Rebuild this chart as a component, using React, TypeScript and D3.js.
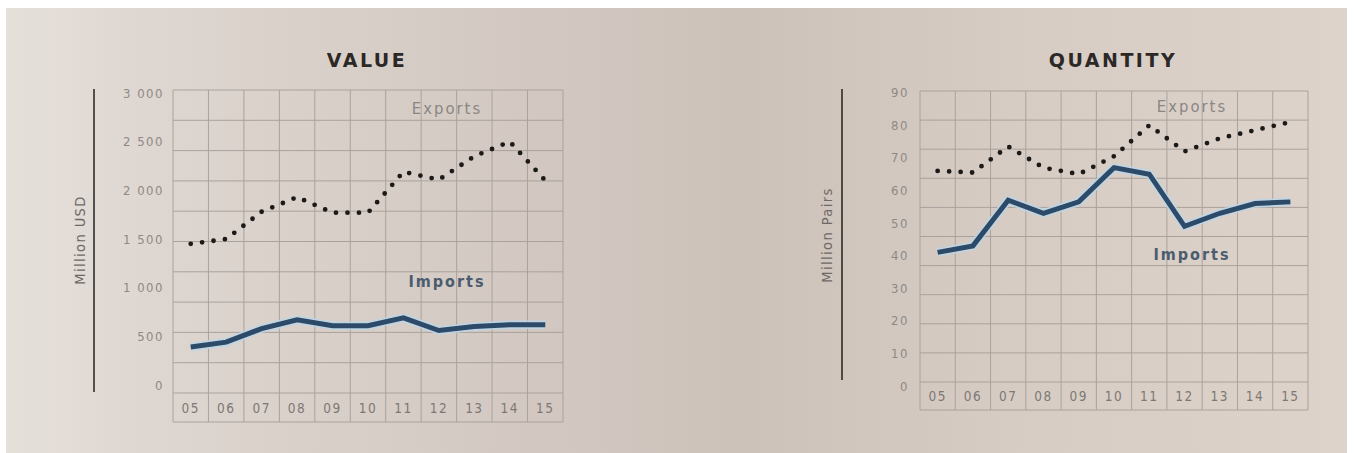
import React from "react";
import * as d3 from "d3";

const years = ["05", "06", "07", "08", "09", "10", "11", "12", "13", "14", "15"];

const valueExports = [1450, 1500, 1780, 1930, 1770, 1770, 2190, 2110, 2350, 2500, 2100];
const valueImports = [390, 440, 580, 670, 610, 610, 690, 560, 600, 620, 620];
const valueTicks = [0, 500, 1000, 1500, 2000, 2500, 3000];

const qtyExports = [66, 65.5, 73.5, 67, 65, 70.5, 80, 72, 76, 78.5, 81];
const qtyImports = [41, 43, 57, 53, 56.5, 67, 65, 49, 53, 56, 56.5];
const qtyTicks = [0, 10, 20, 30, 40, 50, 60, 70, 80, 90];

const locale = d3.formatLocale({ decimal: ".", thousands: " ", grouping: [3], currency: ["", ""] });
const fmt = locale.format(",");

const FONT = "'DejaVu Sans Condensed', 'DejaVu Sans', sans-serif";

type PanelProps = {
  title: string;
  titleX: number;
  axisLabel: string;
  exportsData: number[];
  importsData: number[];
  ticks: number[];
  yMax: number;
  gridLeft: number;
  gridRight: number;
  gridTop: number;
  dataBottom: number;
  labelBottom: number;
  yZero: number;
  yTop: number;
  tickRight: number;
  axisLineX: number;
  axisLineBottom: number;
  axisLabelX: number;
  axisLabelY: number;
  exportsLabelY: number;
  importsLabelY: number;
  labelsX: number;
};

function Panel(p: PanelProps) {
  const x = d3.scaleBand<string>().domain(years).range([p.gridLeft, p.gridRight]).padding(0);
  const y = d3.scaleLinear().domain([0, p.yMax]).range([p.yZero, p.yTop]);
  const rows = d3.range(11).map((i) => p.gridTop + (i * (p.dataBottom - p.gridTop)) / 10);
  const cx = (i: number) => (x(years[i]) as number) + x.bandwidth() / 2;
  const line = d3
    .line<number>()
    .x((_, i) => cx(i))
    .y((d) => y(d));
  const gridColor = "#aaa29c";
  return (
    <g>
      <text
        x={p.titleX}
        y={67}
        textAnchor="middle"
        fontFamily="'DejaVu Sans', sans-serif"
        fontWeight="bold"
        fontSize={19}
        letterSpacing={2.5}
        fill="#2b2826"
      >
        {p.title}
      </text>
      {rows.map((r, i) => (
        <line key={"h" + i} x1={p.gridLeft} x2={p.gridRight} y1={r} y2={r} stroke={gridColor} strokeWidth={1} />
      ))}
      <line x1={p.gridLeft} x2={p.gridRight} y1={p.labelBottom} y2={p.labelBottom} stroke={gridColor} strokeWidth={1} />
      {years.map((yr) => (
        <line
          key={"v" + yr}
          x1={x(yr)}
          x2={x(yr)}
          y1={p.gridTop}
          y2={p.labelBottom}
          stroke={gridColor}
          strokeWidth={1}
        />
      ))}
      <line x1={p.gridRight} x2={p.gridRight} y1={p.gridTop} y2={p.labelBottom} stroke={gridColor} strokeWidth={1} />
      {years.map((yr) => (
        <text
          key={"xl" + yr}
          x={(x(yr) as number) + x.bandwidth() / 2}
          y={(p.dataBottom + p.labelBottom) / 2 + 5}
          textAnchor="middle"
          fontFamily={FONT}
          fontSize={13.5}
          letterSpacing={1.5}
          fill="#7d7874"
        >
          {yr}
        </text>
      ))}
      {p.ticks.map((t) => (
        <text
          key={"yt" + t}
          x={p.tickRight}
          y={y(t) + 4.5}
          textAnchor="end"
          fontFamily={FONT}
          fontSize={13}
          letterSpacing={1.5}
          fill="#8e8985"
        >
          {fmt(t)}
        </text>
      ))}
      <line x1={p.axisLineX} x2={p.axisLineX} y1={89} y2={p.axisLineBottom} stroke="#2e2b29" strokeWidth={1.6} />
      <text
        transform={`translate(${p.axisLabelX},${p.axisLabelY}) rotate(-90)`}
        textAnchor="middle"
        fontFamily={FONT}
        fontSize={14.5}
        letterSpacing={1.4}
        fill="#6e6966"
      >
        {p.axisLabel}
      </text>
      <text
        x={p.labelsX}
        y={p.exportsLabelY}
        textAnchor="middle"
        fontFamily={FONT}
        fontSize={16.5}
        letterSpacing={2}
        fill="#8a8684"
      >
        Exports
      </text>
      <text
        x={p.labelsX}
        y={p.importsLabelY}
        textAnchor="middle"
        fontFamily={FONT}
        fontWeight="bold"
        fontSize={16}
        letterSpacing={2}
        fill="#4b5c6f"
      >
        Imports
      </text>
      <path d={line(p.importsData) || ""} fill="none" stroke="#bcd6e8" strokeWidth={8.5} strokeLinejoin="round" opacity={0.85} />
      <path d={line(p.importsData) || ""} fill="none" stroke="#2d4a69" strokeWidth={5} strokeLinejoin="miter" />
      <path
        d={line(p.exportsData) || ""}
        fill="none"
        stroke="#1c1a19"
        strokeWidth={4.8}
        strokeLinecap="round"
        strokeDasharray="0 11.5"
      />
    </g>
  );
}

export default function App() {
  return (
    <svg
      width={1354}
      height={453}
      style={{ position: "absolute", left: 0, top: 0 }}
      xmlns="http://www.w3.org/2000/svg"
    >
      <defs>
        <linearGradient id="bg" x1="0" x2="1" y1="0" y2="0">
          <stop offset="0" stopColor="#e6e0db" />
          <stop offset="0.12" stopColor="#ddd5cf" />
          <stop offset="0.4" stopColor="#d2c8c1" />
          <stop offset="0.55" stopColor="#cdc2ba" />
          <stop offset="0.75" stopColor="#d6ccc4" />
          <stop offset="1" stopColor="#ddd3cb" />
        </linearGradient>
      </defs>
      <rect x={0} y={0} width={1354} height={453} fill="#ffffff" />
      <rect x={6} y={8} width={1341} height={445} fill="url(#bg)" />
      <Panel
        title="VALUE"
        titleX={367}
        axisLabel="Million USD"
        exportsData={valueExports}
        importsData={valueImports}
        ticks={valueTicks}
        yMax={3000}
        gridLeft={173}
        gridRight={563}
        gridTop={90}
        dataBottom={393}
        labelBottom={422}
        yZero={385}
        yTop={93}
        tickRight={164}
        axisLineX={94}
        axisLineBottom={392}
        axisLabelX={85}
        axisLabelY={240}
        exportsLabelY={114}
        importsLabelY={287}
        labelsX={447}
      />
      <Panel
        title="QUANTITY"
        titleX={1113}
        axisLabel="Million Pairs"
        exportsData={qtyExports}
        importsData={qtyImports}
        ticks={qtyTicks}
        yMax={90}
        gridLeft={920}
        gridRight={1308}
        gridTop={91}
        dataBottom={382}
        labelBottom={410}
        yZero={386}
        yTop={92.7}
        tickRight={909}
        axisLineX={842}
        axisLineBottom={380}
        axisLabelX={832}
        axisLabelY={235}
        exportsLabelY={112}
        importsLabelY={260}
        labelsX={1192}
      />
    </svg>
  );
}
